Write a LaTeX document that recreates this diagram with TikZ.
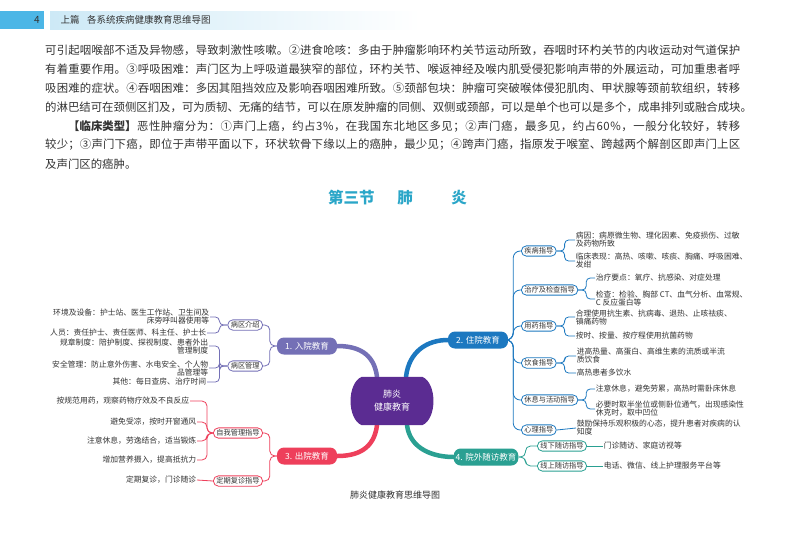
\documentclass[tikz,border=0pt]{standalone}
\usepackage{fontspec}
\setmainfont{Noto Sans CJK SC}
\usetikzlibrary{backgrounds}
\definecolor{cPur}{HTML}{7470B6}
\definecolor{cBlu}{HTML}{1C78C0}
\definecolor{cRed}{HTML}{EE3F5B}
\definecolor{cTea}{HTML}{2AA092}
\definecolor{cCen}{HTML}{5B2C92}
\definecolor{txt}{HTML}{333333}
\definecolor{ttl}{HTML}{2AA6C8}
\definecolor{hdr}{HTML}{4CB6E6}
\definecolor{hdrl}{HTML}{CDE9F6}
\def\spr#1{#1\futurelet\sprnext\sprcheck}
\def\sprcheck{\ifx\sprnext\relax\expandafter\sprstop\else\expandafter\sprgo\fi}
\def\sprgo{\hskip0pt plus1fil\spr}
\def\sprstop\relax{}
\newcommand\jl[1]{\hbox to 695pt{\spr#1\relax}}
\tikzset{
  branch/.style={rounded corners=7pt, minimum width=60pt, minimum height=17pt, inner sep=2pt, text=white, font=\fontsize{8.5}{9}\selectfont},
  child/.style={draw, fill=white, rounded corners=5pt, line width=0.8pt, inner xsep=3pt, inner ysep=1.8pt, font=\fontsize{7.2}{8}\selectfont, text=txt},
  leaf/.style={inner sep=0.6pt, font=\fontsize{7.8}{8}\selectfont, text=txt},
  lleaf/.style={leaf, anchor=east, align=right},
  rleaf/.style={leaf, anchor=west, align=left},
  link/.style={line width=0.8pt, rounded corners=5pt},
  bcurve/.style={line width=4.5pt, line cap=round},
  para/.style={anchor=west, inner sep=0pt, text=txt, font=\fontsize{11.4}{14}\selectfont}
}
\begin{document}
\begin{tikzpicture}[x=1pt,y=-1pt]
\useasboundingbox (0,0) rectangle (800,533);
% header
\fill[hdr] (0,11) rectangle (44,29);
\shade[left color=hdrl, right color=white] (50,11) rectangle (420,29);
\node[text=txt, font=\fontsize{10}{10}\selectfont] (pg) at (37,20) {4};
\node[anchor=west, text=txt, font=\fontsize{9.5}{10}\selectfont] (hd) at (57,20) {上篇\hspace{0.8em}各系统疾病健康教育思维导图};
% paragraph
\node[para] (p1) at (45,50) {\jl{可引起咽喉部不适及异物感，导致刺激性咳嗽。②进食呛咳：多由于肿瘤影响环杓关节运动所致，吞咽时环杓关节的内收运动对气道保护}};
\node[para] (p2) at (45,69) {\jl{有着重要作用。③呼吸困难：声门区为上呼吸道最狭窄的部位，环杓关节、喉返神经及喉内肌受侵犯影响声带的外展运动，可加重患者呼}};
\node[para] (p3) at (45,88) {\jl{吸困难的症状。④吞咽困难：多因其阻挡效应及影响吞咽困难所致。⑤颈部包块：肿瘤可突破喉体侵犯肌肉、甲状腺等颈前软组织，转移}};
\node[para] (p4) at (45,107) {\jl{的淋巴结可在颈侧区扪及，可为质韧、无痛的结节，可以在原发肿瘤的同侧、双侧或颈部，可以是单个也可以是多个，成串排列或融合成块。}};
\node[para] (p5) at (45,126) {\hbox to 695pt{\hskip 23pt{\bfseries 【临床类型】}\hskip0pt plus1fil\spr 恶性肿瘤分为：①声门上癌，约占 3\%，在我国东北地区多见；②声门癌，最多见，约占 60\%，一般分化较好，转移\relax}};
\node[para] (p6) at (45,145) {\jl{较少；③声门下癌，即位于声带平面以下，环状软骨下缘以上的癌肿，最少见；④跨声门癌，指原发于喉室、跨越两个解剖区即声门上区}};
\node[para] (p7) at (45,164) {及声门区的癌肿。};
% title
\node[anchor=west, text=ttl, font=\fontsize{15.5}{16}\selectfont\bfseries, inner sep=0] (t1) at (328,198) {第三节};
\node[text=ttl, font=\fontsize{15.5}{16}\selectfont\bfseries, inner sep=0] (t2) at (405,198) {肺};
\node[text=ttl, font=\fontsize{15.5}{16}\selectfont\bfseries, inner sep=0] (t3) at (459,198) {炎};
% center
\node[minimum width=60pt, minimum height=48pt, inner sep=0, text=white, align=center, font=\fontsize{9}{13}\selectfont] (c) at (392,401) {肺炎\\健康教育};
% branches
\node[branch, fill=cPur] (b1) at (307,346) {1. 入院教育};
\node[branch, fill=cBlu] (b2) at (478,340) {2. 住院教育};
\node[branch, fill=cRed] (b3) at (307,456) {3. 出院教育};
\node[branch, fill=cTea] (b4) at (486,457) {4. 院外随访教育};
\coordinate (c1) at ([xshift=-15pt]c.north);
\coordinate (c2) at ([xshift=14pt]c.north);
\coordinate (c3) at ([xshift=-15pt]c.south);
\coordinate (c4) at ([xshift=15pt]c.south);
\begin{pgfonlayer}{background}
\fill[white] (0,0) rectangle (800,533);
\draw[bcurve, cPur] (c1) .. controls +(-3,-24) and +(20,0) .. (b1.east);
\draw[bcurve, cBlu] (c2) .. controls +(3,-26) and +(-20,0) .. (b2.west);
\draw[bcurve, cRed] (c3) .. controls +(-3,24) and +(20,0) .. (b3.east);
\draw[bcurve, cTea] (c4) .. controls +(3,24) and +(-20,0) .. (b4.west);
\fill[cCen] (c.north west) -- (c.north east) .. controls +(15,6) and +(15,-6) .. (c.south east) -- (c.south west) .. controls +(-15,-6) and +(-15,6) .. (c.north west) -- cycle;
\end{pgfonlayer}
% branch 1 children
\node[child, draw=cPur, anchor=east] (k11) at (263,325) {病区介绍};
\node[child, draw=cPur, anchor=east] (k12) at (263,366) {病区管理};
\coordinate (tb1) at ([xshift=-7pt]b1.west);
\draw[link, cPur] (b1.west) -- (tb1) |- (k11.east);
\draw[link, cPur] (b1.west) -- (tb1) |- (k12.east);
\node[lleaf] (l11) at (210,317) {环境及设备：护士站、医生工作站、卫生间及\\床旁呼叫器使用等};
\node[lleaf] (l12) at (207,333) {人员：责任护士、责任医师、科主任、护士长};
\coordinate (u11) at ([xshift=-8pt]k11.west);
\draw[link, cPur, rounded corners=4pt] (k11.west) -- (u11) |- (l11.east);
\draw[link, cPur, rounded corners=4pt] (k11.west) -- (u11) |- (l12.east);
\node[lleaf] (l13) at (209,346) {规章制度：陪护制度、探视制度、患者外出\\管理制度};
\node[lleaf] (l14) at (209,368) {安全管理：防止意外伤害、水电安全、个人物\\品管理等};
\node[lleaf] (l15) at (207,382) {其他：每日查房、治疗时间};
\coordinate (u12) at ([xshift=-8pt]k12.west);
\draw[link, cPur, rounded corners=4pt] (k12.west) -- (u12) |- (l13.east);
\draw[link, cPur, rounded corners=4pt] (k12.west) -- (u12) |- (l14.east);
\draw[link, cPur, rounded corners=4pt] (k12.west) -- (u12) |- (l15.east);
% branch 3 children
\node[child, draw=cRed, anchor=east] (k31) at (263,433) {自我管理指导};
\node[child, draw=cRed, anchor=east] (k32) at (263,481) {定期复诊指导};
\coordinate (tb3) at ([xshift=-7pt]b3.west);
\draw[link, cRed] (b3.west) -- (tb3) |- (k31.east);
\draw[link, cRed] (b3.west) -- (tb3) |- (k32.east);
\node[lleaf] (l31) at (190,401) {按规范用药，观察药物疗效及不良反应};
\node[lleaf] (l32) at (197,422) {避免受凉，按时开窗通风};
\node[lleaf] (l33) at (197,441) {注意休息，劳逸结合，适当锻炼};
\node[lleaf] (l34) at (197,460) {增加营养摄入，提高抵抗力};
\node[lleaf] (l35) at (197,480) {定期复诊，门诊随诊};
\coordinate (u31) at ([xshift=-6pt]k31.west);
\foreach \n in {l31,l32,l33,l34}
  \draw[link, cRed, rounded corners=5pt] (k31.west) -- (u31) |- (\n.east);
\draw[link, cRed] (k32.west) -- (l35.east);
% branch 2 children
\node[child, draw=cBlu, anchor=west] (k21) at (521,251) {疾病指导};
\node[child, draw=cBlu, anchor=west] (k22) at (521,290) {治疗及检查指导};
\node[child, draw=cBlu, anchor=west] (k23) at (521,326) {用药指导};
\node[child, draw=cBlu, anchor=west] (k24) at (521,363) {饮食指导};
\node[child, draw=cBlu, anchor=west] (k25) at (521,400) {休息与活动指导};
\node[child, draw=cBlu, anchor=west] (k26) at (521,430) {心理指导};
\coordinate (tb2) at ([xshift=5pt]b2.east);
\foreach \n in {k21,k22,k23,k24,k25,k26}
  \draw[link, cBlu, rounded corners=7pt] (b2.east) -- (tb2) |- (\n.west);
\node[rleaf] (r11) at (575,240) {病因：病原微生物、理化因素、免疫损伤、过敏\\及药物所致};
\node[rleaf] (r12) at (575,261) {临床表现：高热、咳嗽、咳痰、胸痛、呼吸困难、\\发绀};
\coordinate (v21) at ([xshift=8pt]k21.east);
\draw[link, cBlu, rounded corners=4pt] (k21.east) -- (v21) |- (r11.west);
\draw[link, cBlu, rounded corners=4pt] (k21.east) -- (v21) |- (r12.west);
\node[rleaf] (r21) at (595,278) {治疗要点：氧疗、抗感染、对症处理};
\node[rleaf] (r22) at (595,299) {检查：检验、胸部 CT、血气分析、血常规、\\C 反应蛋白等};
\coordinate (v22) at ([xshift=8pt]k22.east);
\draw[link, cBlu, rounded corners=4pt] (k22.east) -- (v22) |- (r21.west);
\draw[link, cBlu, rounded corners=4pt] (k22.east) -- (v22) |- (r22.west);
\node[rleaf] (r31) at (575,317) {合理使用抗生素、抗病毒、退热、止咳祛痰、\\镇痛药物};
\node[rleaf] (r32) at (575,336) {按时、按量、按疗程使用抗菌药物};
\coordinate (v23) at ([xshift=8pt]k23.east);
\draw[link, cBlu, rounded corners=4pt] (k23.east) -- (v23) |- (r31.west);
\draw[link, cBlu, rounded corners=4pt] (k23.east) -- (v23) |- (r32.west);
\node[rleaf] (r41) at (576,356) {进高热量、高蛋白、高维生素的流质或半流\\质饮食};
\node[rleaf] (r42) at (576,373) {高热患者多饮水};
\coordinate (v24) at ([xshift=8pt]k24.east);
\draw[link, cBlu, rounded corners=4pt] (k24.east) -- (v24) |- (r41.west);
\draw[link, cBlu, rounded corners=4pt] (k24.east) -- (v24) |- (r42.west);
\node[rleaf] (r51) at (595,389) {注意休息，避免劳累，高热时需卧床休息};
\node[rleaf] (r52) at (595,409) {必要时取半坐位或侧卧位通气，出现感染性\\休克时，取中凹位};
\coordinate (v25) at ([xshift=8pt]k25.east);
\draw[link, cBlu, rounded corners=4pt] (k25.east) -- (v25) |- (r51.west);
\draw[link, cBlu, rounded corners=4pt] (k25.east) -- (v25) |- (r52.west);
\node[rleaf] (r61) at (576,428) {鼓励保持乐观积极的心态，提升患者对疾病的认\\知度};
\draw[link, cBlu] (k26.east) -- (r61.west);
% branch 4 children
\node[child, draw=cTea, anchor=west] (k41) at (537,446) {线下随访指导};
\node[child, draw=cTea, anchor=west] (k42) at (537,466) {线上随访指导};
\coordinate (tb4) at ([xshift=7pt]b4.east);
\draw[link, cTea] (b4.east) -- (tb4) |- (k41.west);
\draw[link, cTea] (b4.east) -- (tb4) |- (k42.west);
\node[rleaf] (r71) at (603,446) {门诊随访、家庭访视等};
\node[rleaf] (r72) at (603,466) {电话、微信、线上护理服务平台等};
\draw[link, cTea] (k41.east) -- (r71.west);
\draw[link, cTea] (k42.east) -- (r72.west);
% caption
\node[text=txt, font=\fontsize{9}{10}\selectfont] (cap) at (395,495) {肺炎健康教育思维导图};
\end{tikzpicture}
\end{document}
